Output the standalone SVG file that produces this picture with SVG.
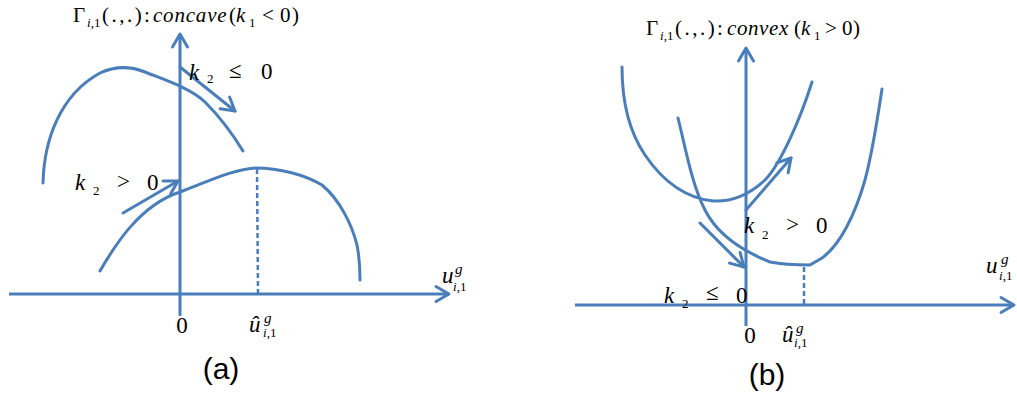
<svg xmlns="http://www.w3.org/2000/svg" width="1017" height="400" viewBox="0 0 1017 400">
<style>
.ln{fill:none;stroke:#4a7ebb;stroke-width:3;stroke-linecap:round;stroke-linejoin:round}
.ax{fill:none;stroke:#4a7ebb;stroke-width:3}
.dash{fill:none;stroke:#4a7ebb;stroke-width:2.5;stroke-dasharray:5,3}
.arr{marker-end:url(#ah)}
.t{font-family:"Liberation Serif","Times New Roman",serif;font-size:21px;fill:#000}
.i{font-style:italic}
.sub{font-size:13px}
.lab{font-family:"Liberation Serif","Times New Roman",serif;font-size:23px;fill:#000}
.cap{font-family:"Liberation Sans",Arial,sans-serif;font-size:30px;fill:#000;text-anchor:middle}
</style>
<defs>
<marker id="ah" markerUnits="userSpaceOnUse" markerWidth="20" markerHeight="20" viewBox="-16 -10 20 20" refX="0" refY="0" orient="auto">
<path d="M-13,-7.5 L0,0 L-13,7.5" fill="none" stroke="#4a7ebb" stroke-width="3" stroke-linecap="round" stroke-linejoin="round"/>
</marker>
</defs>
<rect width="1017" height="400" fill="#fff"/>

<g id="panel-a">
<g id="a-axes">
<line class="ax arr" x1="180" y1="316" x2="180" y2="34"/>
<line class="ax arr" x1="9" y1="294" x2="449" y2="294"/>
<line class="dash" x1="257" y1="169" x2="258" y2="293"/>
</g>
<g id="a-curves">
<path class="ln" d="M43,183 C44,140 60,95 100,73 C115,66 130,66 145,72 C165,80 190,88 205,102 C218,115 232,133 243,151"/>
<path class="ln" d="M100,271 C115,245 140,205 180,192 C205,183 230,170 255,168 C280,168 305,175 322,185 C340,200 352,225 357,245 C360,260 360,270 360,280"/>
</g>
<g id="a-arrows">
<line class="ln arr" x1="180" y1="67" x2="235" y2="111"/>
<line class="ln arr" x1="123" y1="213" x2="178" y2="181"/>
</g>
<g id="a-title">
<text class="t"><tspan x="73" y="22">Γ</tspan><tspan class="i sub" x="87" y="27">i</tspan><tspan class="sub" y="27">,1</tspan><tspan x="102" y="22" letter-spacing="2.5">(.,.)</tspan><tspan x="144" y="22">:</tspan><tspan class="i" x="153" y="22" letter-spacing="0.8">concave</tspan><tspan x="229" y="22">(</tspan><tspan class="i" x="236" y="22">k</tspan><tspan class="sub" x="249" y="27">1</tspan><tspan x="262" y="22">&lt;</tspan><tspan x="280" y="22">0</tspan><tspan x="292" y="22">)</tspan></text>
</g>
<g id="a-labels">
<text class="lab"><tspan class="i" x="189" y="80">k</tspan><tspan class="sub" x="207" y="83">2</tspan><tspan x="229" y="78">≤</tspan><tspan x="261" y="79">0</tspan></text>
<text class="lab"><tspan class="i" x="75" y="190">k</tspan><tspan class="sub" x="93" y="195">2</tspan><tspan x="117" y="189">&gt;</tspan><tspan x="147" y="190">0</tspan></text>
<text class="lab" x="182" y="333" text-anchor="middle" font-size="21">0</text>
<text class="lab"><tspan class="i" x="249" y="332">û</tspan><tspan class="i" font-size="15" x="264" y="323">g</tspan><tspan class="i sub" x="263" y="337">i</tspan><tspan class="sub" y="337">,1</tspan></text>
<text class="lab"><tspan class="i" x="442" y="283">u</tspan><tspan class="i" font-size="15" x="455" y="274">g</tspan><tspan class="i sub" x="453" y="291">i</tspan><tspan class="sub" y="291">,1</tspan></text>
<text class="cap" x="221" y="379">(a)</text>
</g>
</g>

<g id="panel-b">
<g id="b-axes">
<line class="ax arr" x1="746" y1="326" x2="746" y2="48"/>
<line class="ax arr" x1="575" y1="305" x2="1014" y2="305"/>
<line class="dash" x1="804" y1="267" x2="804" y2="304"/>
</g>
<g id="b-curves">
<path class="ln" d="M622,67 C622,100 628,130 645,155 C662,180 685,198 713,201 C735,202 752,192 765,180 C780,165 800,120 812,82"/>
<path class="ln" d="M678,118 C686,150 692,185 705,210 C715,230 735,248 770,262 C785,265 800,265 810,265 L822,258 C840,245 855,215 865,180 C873,150 878,115 882,89"/>
</g>
<g id="b-arrows">
<line class="ln arr" x1="746" y1="210" x2="791" y2="158"/>
<line class="ln arr" x1="700" y1="223" x2="744" y2="267"/>
</g>
<g id="b-title">
<text class="t"><tspan x="646" y="35">Γ</tspan><tspan class="i sub" x="660" y="40">i</tspan><tspan class="sub" y="40">,1</tspan><tspan x="675" y="35" letter-spacing="2.5">(.,.)</tspan><tspan x="717" y="35">:</tspan><tspan class="i" x="727" y="35" letter-spacing="0.6">convex</tspan><tspan x="794" y="35">(</tspan><tspan class="i" x="801" y="35">k</tspan><tspan class="sub" x="814" y="40">1</tspan><tspan x="825" y="35">&gt;</tspan><tspan x="842" y="35">0</tspan><tspan x="853" y="35">)</tspan></text>
</g>
<g id="b-labels">
<text class="lab"><tspan class="i" x="744" y="233">k</tspan><tspan class="sub" x="762" y="239">2</tspan><tspan x="786" y="232">&gt;</tspan><tspan x="816" y="233">0</tspan></text>
<text class="lab"><tspan class="i" x="664" y="303">k</tspan><tspan class="sub" x="682" y="308">2</tspan><tspan x="706" y="300">≤</tspan><tspan x="736" y="303">0</tspan></text>
<text class="lab" x="750" y="343" text-anchor="middle" font-size="21">0</text>
<text class="lab"><tspan class="i" x="782" y="342">û</tspan><tspan class="i" font-size="15" x="796" y="333">g</tspan><tspan class="i sub" x="794" y="347">i</tspan><tspan class="sub" y="347">,1</tspan></text>
<text class="lab"><tspan class="i" x="986" y="273">u</tspan><tspan class="i" font-size="15" x="1001" y="264">g</tspan><tspan class="i sub" x="999" y="280">i</tspan><tspan class="sub" y="280">,1</tspan></text>
<text class="cap" x="767" y="385">(b)</text>
</g>
</g>
</svg>
